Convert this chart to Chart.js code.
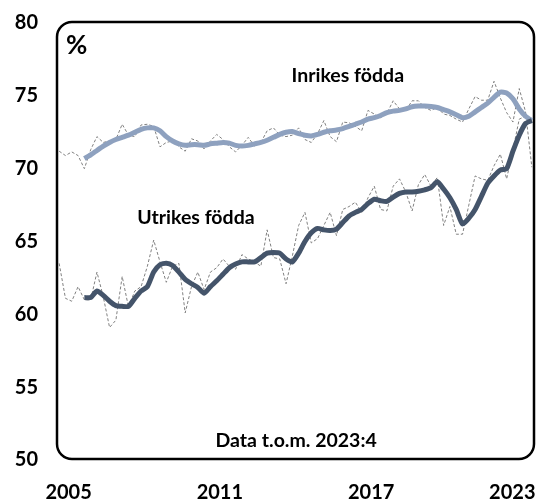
<!DOCTYPE html>
<html>
<head>
<meta charset="utf-8">
<script src="https://cdn.jsdelivr.net/npm/chart.js@4.4.0/dist/chart.umd.min.js"></script>
<style>
  html, body { margin: 0; padding: 0; background: #fff; }
  canvas { display: block; }
</style>
</head>
<body>
<canvas id="chart" width="538" height="501"></canvas>
<script>
// kvartal 2005:1 .. 2023:4
const quarters = [];
for (let y = 2005; y <= 2023; y++) for (let q = 1; q <= 4; q++) quarters.push(y + ':' + q);

// sysselsättningsgrad, säsongsvariation (streckad)
const inrikesRaw = [
  71.2, 70.9, 71.15, 70.9, 70.0, 71.3, 72.2, 71.8, 71.9, 72.0,
  73.05, 72.3, 72.2, 73.0, 73.05, 72.9, 71.5, 71.8, 71.9, 71.5,
  71.2, 72.05, 71.9, 71.35, 71.9, 72.35, 72.0, 71.5, 71.15, 71.6,
  72.15, 71.55, 71.8, 72.6, 72.8, 72.3, 72.2, 72.3, 72.8, 72.0,
  71.8, 72.4, 73.3, 72.2, 71.85, 73.2, 73.15, 72.9, 72.6, 74.0,
  73.75, 73.5, 73.8, 74.66, 74.1, 74.0, 74.66, 74.66, 74.2, 74.0,
  74.2, 73.75, 73.65, 73.4, 73.2, 74.1, 74.95, 74.7, 74.7, 76.0,
  74.85, 73.85, 73.2, 75.5, 73.9, 70.1
];
const utrikesRaw = [
  63.5, 61.1, 60.9, 61.9, 61.0, 61.0, 62.9, 61.2, 59.1, 59.6,
  62.6, 60.5, 61.6, 61.9, 63.3, 65.1, 63.6, 62.2, 63.3, 63.5,
  60.1, 61.9, 62.9, 61.7, 62.9, 63.2, 63.8, 63.3, 63.1, 64.1,
  63.8, 63.6, 63.3, 65.8, 63.9, 63.8, 62.1, 64.0, 66.1, 67.0,
  64.9, 65.2, 66.1, 67.0, 65.4, 67.2, 67.4, 67.7, 67.0, 68.0,
  68.8, 67.2, 67.1, 68.8, 69.3, 68.4, 67.1, 68.9, 69.6, 68.8,
  69.4, 66.1, 67.4, 65.5, 65.5, 67.5, 69.5, 69.3, 69.2, 70.2,
  71.0, 69.3, 71.3, 73.4, 73.6, 73.2
];

// trend (heldragen), börjar 2006:1
const inrikesTrend = [
  null, null, null, null,
  70.7, 70.95, 71.25, 71.55, 71.8, 72.0, 72.15, 72.3, 72.5, 72.7,
  72.8, 72.8, 72.6, 72.2, 71.9, 71.7, 71.6, 71.65, 71.65, 71.6,
  71.7, 71.75, 71.8, 71.75, 71.6, 71.55, 71.6, 71.7, 71.8, 71.95,
  72.15, 72.35, 72.5, 72.55, 72.4, 72.3, 72.25, 72.35, 72.5, 72.6,
  72.65, 72.75, 72.9, 73.05, 73.2, 73.4, 73.5, 73.65, 73.85, 73.95,
  74.0, 74.1, 74.25, 74.3, 74.3, 74.27, 74.2, 74.05, 73.9, 73.7,
  73.5, 73.6, 73.9, 74.2, 74.5, 74.9, 75.25, 75.2, 74.8, 74.1,
  73.6, 73.3
];
const utrikesTrend = [
  null, null, null, null,
  61.15, 61.15, 61.6, 61.3, 60.9, 60.6, 60.55, 60.55, 61.1, 61.6,
  61.9, 62.9, 63.4, 63.5, 63.35, 62.9, 62.4, 62.1, 61.85, 61.45,
  61.9, 62.3, 62.75, 63.2, 63.45, 63.6, 63.6, 63.6, 63.9, 64.2,
  64.25, 64.2, 63.8, 63.6, 64.2, 65.0, 65.6, 65.9, 65.8, 65.75,
  65.85, 66.3, 66.75, 67.0, 67.2, 67.6, 67.9, 67.8, 67.75, 68.05,
  68.3, 68.4, 68.4, 68.45, 68.55, 68.7, 69.1, 68.6, 68.0, 67.2,
  66.2, 66.6, 67.2, 68.1, 69.0, 69.5, 69.9, 70.0, 71.2, 72.3,
  73.1, 73.3
];

const yearLabels = ['2005', '2011', '2017', '2023'];
const yearTickPos = [1.5, 25.5, 49.5, 71.9];

const FONT = 'Lato, "Liberation Sans", sans-serif';

const toPoints = arr => arr.map((v, i) => ({ x: i, y: v }));

// rundad ram + texter i diagrammet
const boxAndText = {
  id: 'boxAndText',
  beforeDatasetsDraw(chart) {
    const { ctx, chartArea: a } = chart;
    ctx.save();
    ctx.strokeStyle = '#000';
    ctx.lineWidth = 2.5;
    ctx.beginPath();
    ctx.roundRect(a.left + 1, a.top - 1, a.right - a.left - 2, a.bottom - a.top, 15);
    ctx.stroke();
    ctx.restore();
  },
  afterDatasetsDraw(chart) {
    const { ctx, chartArea: a, scales: { x, y } } = chart;
    ctx.save();
    ctx.fillStyle = '#000';
    ctx.textBaseline = 'middle';
    ctx.font = 'bold 26px ' + FONT;
    ctx.textAlign = 'left';
    ctx.fillText('%', a.left + 10, a.top + 23);
    ctx.textAlign = 'center';
    ctx.font = 'bold 19.5px ' + FONT;
    ctx.fillText('Inrikes födda', x.getPixelForValue(45.8), y.getPixelForValue(76.35));
    ctx.fillText('Utrikes födda', x.getPixelForValue(21.7), y.getPixelForValue(66.65));
    ctx.font = 'bold 19.5px ' + FONT;
    ctx.fillText('Data t.o.m. 2023:4', x.getPixelForValue(37.6), y.getPixelForValue(51.3));
    ctx.restore();
  }
};

new Chart(document.getElementById('chart'), {
  type: 'line',
  data: {
    labels: quarters,
    datasets: [
      {
        label: 'Inrikes födda, trend',
        data: toPoints(inrikesTrend),
        borderColor: '#8ea1bf',
        borderWidth: 5,
        pointRadius: 0,
        tension: 0.2,
        order: 1
      },
      {
        label: 'Utrikes födda, trend',
        data: toPoints(utrikesTrend),
        borderColor: '#44546a',
        borderWidth: 5,
        pointRadius: 0,
        tension: 0.2,
        order: 0
      },
      {
        label: 'Inrikes födda',
        data: toPoints(inrikesRaw),
        borderColor: '#808080',
        borderWidth: 1,
        borderDash: [3, 2],
        pointRadius: 0,
        tension: 0,
        order: 3
      },
      {
        label: 'Utrikes födda',
        data: toPoints(utrikesRaw),
        borderColor: '#808080',
        borderWidth: 1,
        borderDash: [3, 2],
        pointRadius: 0,
        tension: 0,
        order: 2
      }
    ]
  },
  options: {
    responsive: false,
    animation: false,
    events: [],
    layout: { padding: { top: 23, right: 3, left: 0, bottom: 0 } },
    plugins: {
      legend: { display: false },
      tooltip: { enabled: false }
    },
    scales: {
      x: {
        type: 'linear',
        min: -0.5,
        max: 75.5,
        grid: { display: false, drawTicks: false },
        border: { display: false },
        afterBuildTicks: scale => {
          scale.ticks = yearTickPos.map(v => ({ value: v }));
        },
        ticks: {
          autoSkip: false,
          maxRotation: 0,
          padding: 21,
          color: '#000',
          font: { family: FONT, size: 20, weight: 'bold' },
          callback: (v, i) => yearLabels[i]
        },
        afterFit: scale => {
          scale.height = 41;
          scale.paddingLeft = 0;
          scale.paddingRight = 0;
        }
      },
      y: {
        min: 50,
        max: 80,
        grid: { display: false, drawTicks: false },
        border: { display: false },
        ticks: {
          stepSize: 5,
          padding: 18,
          color: '#000',
          font: { family: FONT, size: 20, weight: 'bold' }
        },
        afterFit: scale => {
          scale.width = 56;
          scale.paddingTop = 0;
          scale.paddingBottom = 0;
        }
      }
    }
  },
  plugins: [boxAndText]
});
</script>
</body>
</html>
